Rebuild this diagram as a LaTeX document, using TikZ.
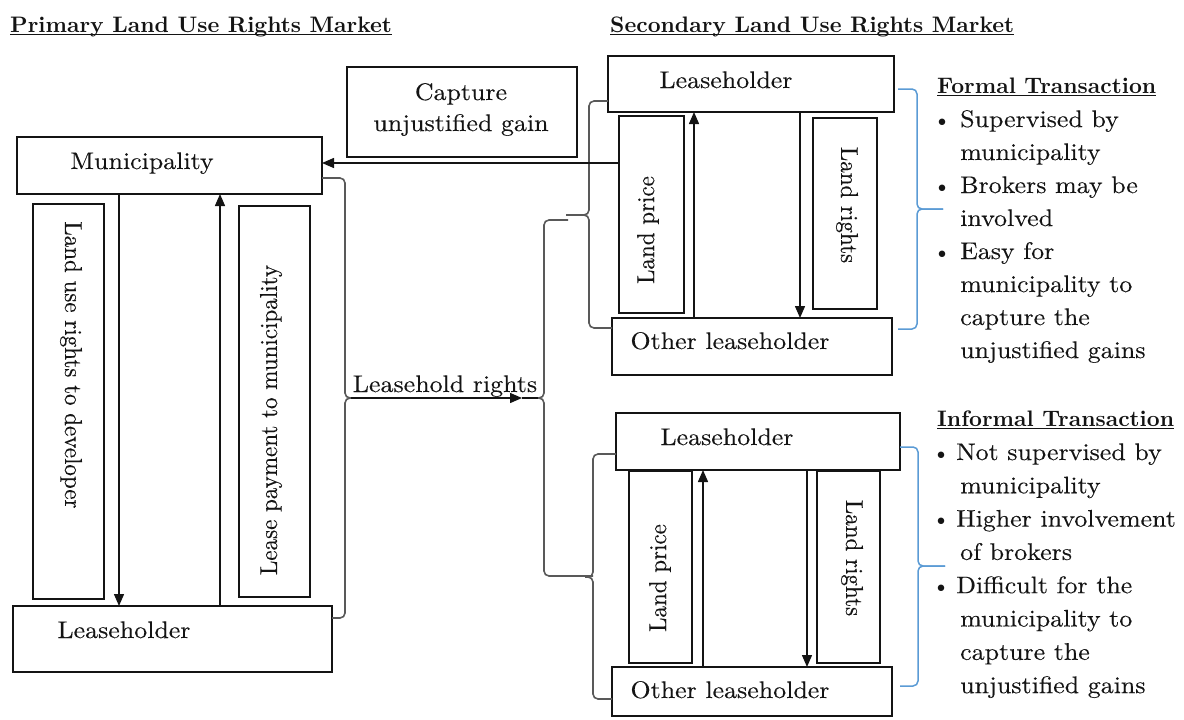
\documentclass[tikz,border=0pt]{standalone}
\usepackage{fontspec}
\usetikzlibrary{arrows.meta}

% Latin Modern (10pt design) in three cuts
\newfontfamily\bodyfam{lmroman10-regular.otf}[FakeStretch=1.08,FakeBold=0.2]
\newfontfamily\vertfam{lmroman10-regular.otf}[FakeStretch=0.94,FakeBold=0.2]
\newfontfamily\dotfam{lmroman10-regular.otf}
\newfontfamily\headfam{lmroman10-bold.otf}
\newcommand\bodyfont{\bodyfam\fontsize{24pt}{33pt}\selectfont}
\newcommand\vertfont{\vertfam\fontsize{24.5pt}{28pt}\selectfont}
\newcommand\dotfont{\dotfam\fontsize{22.5pt}{27pt}\selectfont}
\newcommand\headfont{\headfam\fontsize{22.4pt}{26pt}\selectfont}

\definecolor{bracebl}{RGB}{91,155,213}
\definecolor{ink}{RGB}{20,20,20}

\tikzset{
  box/.style n args={2}{draw=ink, line width=1.4pt, inner sep=0pt, outer sep=0pt,
    anchor=north west, minimum width=#1, minimum height=#2},
  txt/.style={inner sep=0pt, font=\bodyfont, text=ink},
  vtxt/.style={inner sep=0pt, font=\vertfont, text=ink},
  dot/.style={inner sep=0pt, font=\dotfont, text=ink, anchor=base},
  head/.style={inner sep=0pt, anchor=base west, font=\headfont, text=ink},
  uline/.style={draw=ink, line width=1.2pt},
  arr/.style={draw=ink, line width=1.4pt, -{Triangle[length=12pt,width=10pt]}},
  gbrace/.style={draw=black!65, line width=1.6pt, rounded corners=5pt},
  bbrace/.style={draw=bracebl, line width=1.5pt, rounded corners=5pt},
}

\begin{document}
\begin{tikzpicture}[x=1pt, y=-1pt]
\useasboundingbox (0,0) rectangle (1184,720);

% ---------- headings ----------
\node[head] (ttlP) at (10,32) {Primary Land Use Rights Market};
\draw[uline] ([yshift=-2.5pt]ttlP.base west) -- ([yshift=-2.5pt]ttlP.base east);
\node[head] (ttlS) at (610,32) {Secondary Land Use Rights Market};
\draw[uline] ([yshift=-2.5pt]ttlS.base west) -- ([yshift=-2.5pt]ttlS.base east);

% ---------- primary market ----------
\node[box={305pt}{57pt}] (muni) at (17,137) {};
\node[txt, anchor=base] (muniT) at (142,169) {Municipality};
\node[box={319pt}{66pt}] (lhA) at (13,606) {};
\node[txt, anchor=base] (lhAT) at (124,638) {Leaseholder};
\node[box={71pt}{395pt}] (luBox) at (33,204) {};
\node[vtxt, rotate=-90] (luT) at (71,365) {Land use rights to developer};
\node[box={71pt}{391pt}] (lpBox) at (239,206) {};
\node[vtxt, rotate=90] (lpT) at (271,420) {Lease payment to municipality};

\draw[arr] ([xshift=102pt]muni.south west) -- ([xshift=106pt]lhA.north west);
\draw[arr] ([xshift=207pt]lhA.north west) -- ([xshift=203pt]muni.south west);

% capture box
\node[box={230pt}{90pt}] (cap) at (347,67) {};
\node[txt, anchor=base] (capT1) at (461,100) {Capture};
\node[txt, anchor=base] (capT2) at (461,131) {unjustified gain};

% ---------- secondary market, formal ----------
\node[box={286pt}{56pt}] (lhB) at (608,56) {};
\node[txt, anchor=base] (lhBT) at (726,88) {Leaseholder};
\node[box={280pt}{57pt}] (olB) at (612,318) {};
\node[txt, anchor=base] (olBT) at (730,349) {Other leaseholder};
\node[box={65pt}{197pt}] (lpB) at (619,116) {};
\node[vtxt, rotate=90] (lpBT) at (648,230) {Land price};
\node[box={64pt}{191pt}] (lrB) at (813,118) {};
\node[vtxt, rotate=-90] (lrBT) at (847,205) {Land rights};

\draw[arr] ([xshift=82pt]olB.north west) -- ([xshift=86pt]lhB.south west);
\draw[arr] ([xshift=192pt]lhB.south west) -- ([xshift=188pt]olB.north west);

% ---------- secondary market, informal ----------
\node[box={284pt}{57pt}] (lhC) at (616,413) {};
\node[txt, anchor=base] (lhCT) at (727,445) {Leaseholder};
\node[box={280pt}{49pt}] (olC) at (612,667) {};
\node[txt, anchor=base] (olCT) at (730,698) {Other leaseholder};
\node[box={63pt}{192pt}] (lpC) at (629,471) {};
\node[vtxt, rotate=90] (lpCT) at (660,578) {Land price};
\node[box={63pt}{192pt}] (lrC) at (817,471) {};
\node[vtxt, rotate=-90] (lrCT) at (852,558) {Land rights};

\draw[arr] ([xshift=91pt]olC.north west) -- ([xshift=87pt]lhC.south west);
\draw[arr] ([xshift=191pt]lhC.south west) -- ([xshift=195pt]olC.north west);

% ---------- braces ----------
\coordinate (b1tip) at (351,398);
\coordinate (b2tip) at (538,398);
\coordinate (lrhead) at (522,398);
\draw[gbrace] (muni.east |- 0,178) -- (345,178) -- (345,398) -- (b1tip);
\draw[gbrace] (b1tip) -- (345,398) -- (345,618) -- (lhA.east |- 0,618);
\draw[gbrace] (568,220) -- (544,220) -- (544,398) -- (b2tip);
\draw[gbrace] (b2tip) -- (544,398) -- (544,576) -- (593,576);
\draw[gbrace] (lhB.west |- 0,101) -- (589,101) -- (589,215) -- (566,215);
\draw[gbrace] (566,215) -- (589,215) -- (589,328) -- (olB.west |- 0,328);
\draw[gbrace] (lhC.west |- 0,454) -- (593,454) -- (593,577) -- (585,577);
\draw[gbrace] (585,577) -- (593,577) -- (593,699) -- (olC.west |- 0,699);

\draw[bbrace] (898,89) -- (917,89) -- (917,209) -- (943,209);
\draw[bbrace] (943,209) -- (917,209) -- (917,329) -- (898,329);
\draw[bbrace] (900,447) -- (918,447) -- (918,566) -- (945,566);
\draw[bbrace] (945,566) -- (918,566) -- (918,686) -- (900,686);

% leasehold rights flow between the two markets
\node[txt, anchor=base] (lrT) at (445,392) {Leasehold rights};
\draw[arr] (b1tip) -- (lrhead);
\draw[draw=ink, line width=1.4pt] (lrhead) -- (b2tip);

% capture of the gain by the municipality
\coordinate (capy) at (0,163);
\draw[arr] (lpB.west |- capy) -- (muni.east |- capy);

% ---------- transaction notes ----------
\node[head] (fmT) at (937,93) {Formal Transaction};
\draw[uline] ([yshift=-2.5pt]fmT.base west) -- ([yshift=-2.5pt]fmT.base east);
\foreach \tx [count=\i from 0] in {Supervised by, municipality, Brokers may be, involved,
    Easy for, municipality to, capture the, unjustified gains}
  \node[txt, anchor=base west] (fl\i) at (960,{127+33*\i}) {\tx};
\foreach \i in {0,2,4}
  \node[dot] (fb\i) at (942,{127+33*\i}) {\textbullet};

\node[head] (inT) at (937,426) {Informal Transaction};
\draw[uline] ([yshift=-2.5pt]inT.base west) -- ([yshift=-2.5pt]inT.base east);
\foreach \tx/\xx [count=\i from 0] in {Not supervised by/956, municipality/960,
    Higher involvement/956, of brokers/960, Difficult for the/956,
    municipality to/960, capture the/960, unjustified gains/960}
  \node[txt, anchor=base west] (il\i) at (\xx,{460+33.3*\i}) {\tx};
\foreach \i in {0,2,4}
  \node[dot] (ib\i) at (941,{460+33.3*\i}) {\textbullet};

\end{tikzpicture}
\end{document}
